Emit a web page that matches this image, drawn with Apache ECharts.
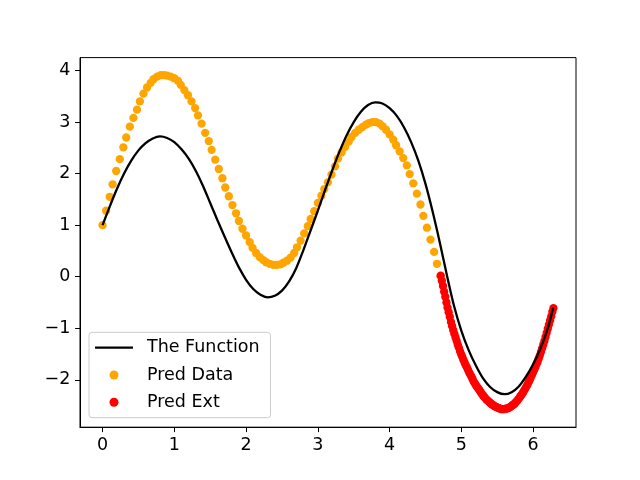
<!DOCTYPE html>
<html><head><meta charset="utf-8">
<script src="https://cdn.jsdelivr.net/npm/echarts@6/dist/echarts.min.js"></script>
<style>html,body{margin:0;padding:0;background:#fff}#c{width:640px;height:480px}</style>
</head><body><div id="c"></div><script>
const xTicks = [0, 1, 2, 3, 4, 5, 6];
const yTicks = [-2, -1, 0, 1, 2, 3, 4];
const seriesNames = ['The Function', 'Pred Data', 'Pred Ext'];

const funcX = [0.00,0.10,0.20,0.30,0.40,0.50,0.60,0.70,0.80,0.90,1.00,1.10,1.20,1.30,1.40,1.50,1.60,1.70,1.80,1.90,2.00,2.10,2.20,2.30,2.40,2.50,2.60,2.70,2.80,2.90,3.00,3.10,3.20,3.30,3.40,3.50,3.60,3.70,3.80,3.90,4.00,4.10,4.20,4.30,4.40,4.50,4.60,4.70,4.80,4.90,5.00,5.10,5.20,5.30,5.40,5.50,5.60,5.70,5.80,5.90,6.00,6.10,6.20,6.28];
const funcY = [1.00,1.36,1.70,2.00,2.25,2.45,2.59,2.68,2.72,2.69,2.61,2.47,2.29,2.05,1.76,1.43,1.10,0.78,0.47,0.18,-0.06,-0.24,-0.35,-0.40,-0.37,-0.27,-0.09,0.17,0.52,0.90,1.28,1.68,2.06,2.42,2.74,3.00,3.20,3.33,3.38,3.36,3.27,3.12,2.90,2.61,2.25,1.80,1.26,0.66,0.02,-0.58,-1.05,-1.42,-1.72,-1.97,-2.14,-2.24,-2.28,-2.24,-2.13,-1.94,-1.70,-1.40,-1.02,-0.60];

const dataX = [0.00,0.05,0.10,0.14,0.19,0.24,0.29,0.33,0.38,0.43,0.48,0.52,0.57,0.62,0.67,0.71,0.76,0.81,0.86,0.90,0.95,1.00,1.05,1.09,1.14,1.19,1.24,1.29,1.33,1.38,1.43,1.48,1.52,1.57,1.62,1.67,1.71,1.76,1.81,1.86,1.90,1.95,2.00,2.05,2.09,2.14,2.19,2.24,2.28,2.33,2.38,2.43,2.48,2.52,2.57,2.62,2.67,2.71,2.76,2.81,2.86,2.90,2.95,3.00,3.05,3.09,3.14,3.19,3.24,3.28,3.33,3.38,3.43,3.47,3.52,3.57,3.62,3.67,3.71,3.76,3.81,3.86,3.90,3.95,4.00,4.05,4.09,4.14,4.19,4.24,4.28,4.33,4.38,4.43,4.47,4.52,4.57,4.62,4.66,4.71];
const dataY = [1.00,1.28,1.55,1.79,2.05,2.28,2.51,2.70,2.91,3.08,3.24,3.40,3.55,3.67,3.76,3.83,3.88,3.91,3.91,3.90,3.88,3.85,3.80,3.72,3.62,3.52,3.40,3.27,3.13,2.97,2.79,2.63,2.46,2.27,2.09,1.91,1.73,1.56,1.39,1.23,1.08,0.93,0.80,0.67,0.56,0.46,0.38,0.32,0.28,0.25,0.23,0.23,0.24,0.27,0.31,0.37,0.46,0.57,0.70,0.84,0.98,1.12,1.27,1.43,1.57,1.70,1.83,1.98,2.14,2.29,2.41,2.52,2.62,2.71,2.79,2.85,2.90,2.95,2.98,3.00,3.00,2.97,2.92,2.85,2.76,2.66,2.55,2.43,2.30,2.16,1.99,1.81,1.61,1.40,1.18,0.95,0.72,0.48,0.25,0.01];

const extX = [4.712,4.728,4.744,4.760,4.776,4.792,4.807,4.823,4.839,4.855,4.871,4.887,4.903,4.919,4.935,4.950,4.966,4.982,4.998,5.014,5.030,5.046,5.062,5.077,5.093,5.109,5.125,5.141,5.157,5.173,5.189,5.204,5.220,5.236,5.252,5.268,5.284,5.300,5.316,5.331,5.347,5.363,5.379,5.395,5.411,5.427,5.443,5.458,5.474,5.490,5.506,5.522,5.538,5.554,5.570,5.585,5.601,5.617,5.633,5.649,5.665,5.681,5.697,5.712,5.728,5.744,5.760,5.776,5.792,5.808,5.823,5.839,5.855,5.871,5.887,5.903,5.919,5.935,5.950,5.966,5.982,5.998,6.014,6.030,6.046,6.062,6.077,6.093,6.109,6.125,6.141,6.157,6.173,6.189,6.204,6.220,6.236,6.252,6.268,6.283];
const extY = [0.02,-0.08,-0.18,-0.29,-0.39,-0.50,-0.60,-0.69,-0.78,-0.88,-0.96,-1.04,-1.11,-1.18,-1.25,-1.32,-1.38,-1.45,-1.51,-1.56,-1.62,-1.67,-1.72,-1.76,-1.81,-1.86,-1.90,-1.94,-1.99,-2.04,-2.07,-2.11,-2.14,-2.17,-2.20,-2.24,-2.27,-2.30,-2.33,-2.35,-2.38,-2.40,-2.42,-2.44,-2.46,-2.48,-2.49,-2.51,-2.52,-2.53,-2.54,-2.55,-2.56,-2.57,-2.57,-2.57,-2.57,-2.56,-2.56,-2.55,-2.54,-2.53,-2.51,-2.49,-2.48,-2.46,-2.43,-2.41,-2.38,-2.35,-2.32,-2.29,-2.26,-2.22,-2.18,-2.14,-2.10,-2.05,-2.01,-1.96,-1.91,-1.86,-1.81,-1.76,-1.70,-1.65,-1.59,-1.53,-1.46,-1.39,-1.32,-1.25,-1.17,-1.09,-1.01,-0.93,-0.85,-0.77,-0.68,-0.61];

const pairs = (xs, ys) => xs.map((x, i) => [x, ys[i]]);
const fmt = v => String(v).replace('-', '\u2212');
const FONT = 'DejaVu Sans';
const FS = 17.5;

const chart = echarts.init(document.getElementById('c'), null, {renderer: 'canvas'});
chart.setOption({
  animation: false,
  backgroundColor: '#fff',
  grid: {left: 80, right: 64, top: 57.6, bottom: 52.8, show: true, borderColor: '#000', borderWidth: 1, backgroundColor: 'transparent'},
  xAxis: {
    type: 'value', min: -0.3142, max: 6.5973,
    splitLine: {show: false},
    axisLine: {show: true, onZero: false, lineStyle: {color: '#000', width: 1}},
    axisTick: {show: true, customValues: xTicks, length: 4.9, lineStyle: {color: '#000', width: 1}},
    axisLabel: {customValues: xTicks, formatter: fmt, color: '#000', fontFamily: FONT, fontSize: FS, margin: 9.7, lineHeight: FS}
  },
  yAxis: {
    type: 'value', min: -2.92, max: 4.25,
    splitLine: {show: false},
    axisLine: {show: true, onZero: false, lineStyle: {color: '#000', width: 1}},
    axisTick: {show: true, customValues: yTicks, length: 4.9, lineStyle: {color: '#000', width: 1}},
    axisLabel: {customValues: yTicks, formatter: fmt, color: '#000', fontFamily: FONT, fontSize: FS, margin: 9.7}
  },
  legend: {
    orient: 'vertical', left: 89, top: 332.3,
    itemWidth: 38, itemHeight: 9, itemGap: 9.3,
    padding: [6.4, 11, 6.4, 6],
    borderColor: '#cccccc', borderWidth: 1, borderRadius: 3,
    backgroundColor: 'rgba(255,255,255,0.8)',
    selectedMode: false,
    textStyle: {fontFamily: FONT, fontSize: FS, color: '#000', lineHeight: 18, padding: [0, 0, 0, 9]},
    data: [
      {name: seriesNames[0], icon: 'path://M0,0L38,0L38,2.3L0,2.3Z', itemStyle: {color: '#000', borderWidth: 0}},
      {name: seriesNames[1], icon: 'circle'},
      {name: seriesNames[2], icon: 'circle'}
    ]
  },
  series: [
    {name: seriesNames[1], type: 'scatter', z: 2, data: pairs(dataX, dataY), symbol: 'circle', symbolSize: 8.3,
     itemStyle: {color: '#FFA500', opacity: 1}},
    {name: seriesNames[2], type: 'scatter', z: 2, data: pairs(extX, extY), symbol: 'circle', symbolSize: 8.3,
     itemStyle: {color: '#FF0000', opacity: 1}},
    {name: seriesNames[0], type: 'line', z: 3, data: pairs(funcX, funcY), smooth: 0.3, symbol: 'none', showSymbol: false,
     lineStyle: {color: '#000', width: 2.3}, itemStyle: {color: '#000'}}
  ]
});
</script></body></html>
